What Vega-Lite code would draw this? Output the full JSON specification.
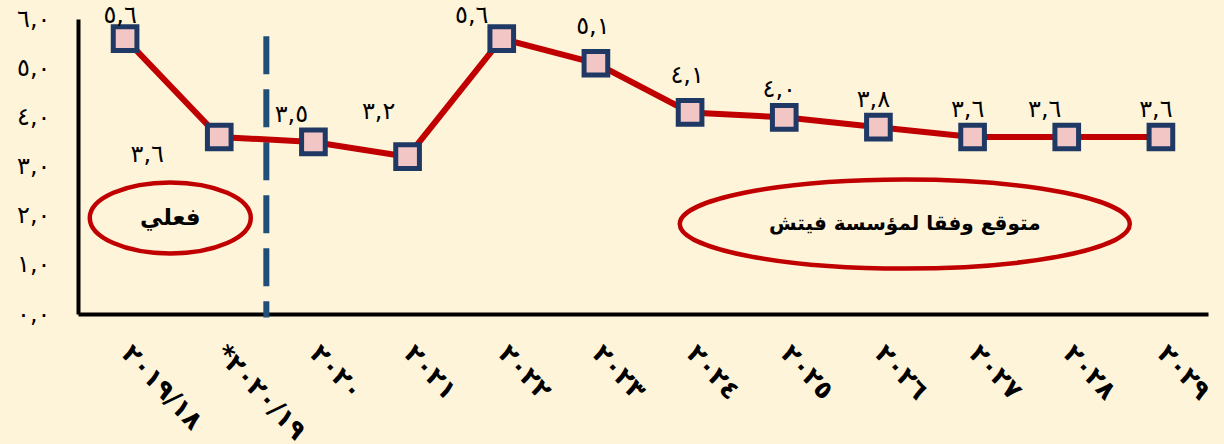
{
  "$schema": "https://vega.github.io/schema/vega-lite/v6.json",
  "autosize": {"type": "none"},
  "width": 1130,
  "height": 295,
  "padding": {"left": 78, "top": 19, "right": 16, "bottom": 130},
  "background": "#FEF4D9",
  "config": {
    "view": {"stroke": null},
    "font": "DejaVu Sans",
    "locale": {
      "number": {
        "decimal": ",",
        "thousands": ".",
        "grouping": [3],
        "currency": ["", ""],
        "numerals": ["٠", "١", "٢", "٣", "٤", "٥", "٦", "٧", "٨", "٩"]
      }
    }
  },
  "datasets": {
    "growth": [
      {"year": "٢٠١٩/١٨", "value": 5.6},
      {"year": "*٢٠٢٠/١٩", "value": 3.6},
      {"year": "٢٠٢٠", "value": 3.5},
      {"year": "٢٠٢١", "value": 3.2},
      {"year": "٢٠٢٢", "value": 5.6},
      {"year": "٢٠٢٣", "value": 5.1},
      {"year": "٢٠٢٤", "value": 4.1},
      {"year": "٢٠٢٥", "value": 4.0},
      {"year": "٢٠٢٦", "value": 3.8},
      {"year": "٢٠٢٧", "value": 3.6},
      {"year": "٢٠٢٨", "value": 3.6},
      {"year": "٢٠٢٩", "value": 3.6}
    ],
    "divider": [{"u": 2.0, "top": 5.65, "bottom": -0.07}],
    "actual": [{"label": "فعلي", "u": 0.98, "v": 1.955}],
    "forecast": [{"label": "متوقع وفقا لمؤسسة فيتش", "u": 8.78, "v": 1.83}]
  },
  "resolve": {"scale": {"x": "independent"}},
  "layer": [
    {
      "data": {"name": "divider"},
      "mark": {"type": "rule", "color": "#1F4E79", "strokeWidth": 6, "strokeDash": [38, 15]},
      "encoding": {
        "x": {"field": "u", "type": "quantitative", "scale": {"domain": [0, 12], "nice": false, "zero": false}, "axis": null},
        "y": {"field": "top", "type": "quantitative", "scale": {"domain": [0, 6], "nice": false}, "title": null},
        "y2": {"field": "bottom"}
      }
    },
    {
      "data": {"name": "actual"},
      "layer": [
        {
          "mark": {"type": "point", "filled": false, "stroke": "#C00000", "strokeWidth": 4.5, "opacity": 1, "size": 25921,
            "shape": "M-1,0C-1,-0.2436,-0.5523,-0.441,0,-0.441C0.5523,-0.441,1,-0.2436,1,0C1,0.2436,0.5523,0.441,0,0.441C-0.5523,0.441,-1,0.2436,-1,0Z"}
        },
        {
          "mark": {"type": "text", "fontSize": 23, "fontWeight": "bold", "color": "black", "font": "DejaVu Sans"},
          "encoding": {"text": {"field": "label"}}
        }
      ],
      "encoding": {
        "x": {"field": "u", "type": "quantitative", "scale": {"domain": [0, 12], "nice": false, "zero": false}, "axis": null},
        "y": {"field": "v", "type": "quantitative", "title": null}
      }
    },
    {
      "data": {"name": "forecast"},
      "layer": [
        {
          "mark": {"type": "point", "filled": false, "stroke": "#C00000", "strokeWidth": 4.5, "opacity": 1, "size": 202500,
            "shape": "M-1,0C-1,-0.1094,-0.5523,-0.198,0,-0.198C0.5523,-0.198,1,-0.1094,1,0C1,0.1094,0.5523,0.198,0,0.198C-0.5523,0.198,-1,0.1094,-1,0Z"}
        },
        {
          "mark": {"type": "text", "fontSize": 20, "fontWeight": "bold", "color": "black", "font": "DejaVu Sans"},
          "encoding": {"text": {"field": "label"}}
        }
      ],
      "encoding": {
        "x": {"field": "u", "type": "quantitative", "scale": {"domain": [0, 12], "nice": false, "zero": false}, "axis": null},
        "y": {"field": "v", "type": "quantitative", "title": null}
      }
    },
    {
      "data": {"name": "growth"},
      "encoding": {
        "x": {
          "field": "year", "type": "ordinal", "sort": null,
          "scale": {"type": "point", "padding": 0.5},
          "axis": {
            "title": null, "domain": true, "domainColor": "black", "domainWidth": 4, "ticks": false, "grid": false,
            "labelAngle": 47, "labelAlign": "left", "labelBaseline": "top", "labelFontSize": 26, "labelFontWeight": "bold", "labelColor": "black",
            "labelPadding": 26, "labelOffset": 10, "labelFont": "DejaVu Sans"
          }
        },
        "y": {
          "field": "value", "type": "quantitative", "title": null,
          "scale": {"domain": [0, 6], "nice": false},
          "axis": {
            "title": null, "values": [0, 1, 2, 3, 4, 5, 6], "format": ".1f", "domain": true, "domainColor": "black",
            "domainWidth": 4, "ticks": false, "grid": false, "labelFontSize": 24, "labelColor": "black",
            "labelPadding": 28, "labelFont": "DejaVu Sans"
          }
        }
      },
      "layer": [
        {"mark": {"type": "line", "color": "#C00000", "strokeWidth": 6}},
        {"mark": {"type": "point", "shape": "square", "filled": true, "fill": "#F3C6C6", "stroke": "#1F3864", "strokeWidth": 5, "size": 560, "opacity": 1}},
        {
          "transform": [{"filter": {"field": "year", "oneOf": ["٢٠١٩/١٨"]}}],
          "mark": {"type": "text", "fontSize": 24, "dx": -5, "dy": -23, "color": "black"},
          "encoding": {"text": {"field": "value", "type": "quantitative", "format": ".1f"}}
        },
        {
          "transform": [{"filter": {"field": "year", "oneOf": ["٢٠٢٥", "٢٠٢٦", "٢٠٢٧", "٢٠٢٩"]}}],
          "mark": {"type": "text", "fontSize": 24, "dx": -5, "dy": -27, "color": "black"},
          "encoding": {"text": {"field": "value", "type": "quantitative", "format": ".1f"}}
        },
        {
          "transform": [{"filter": {"field": "year", "oneOf": ["٢٠٢٣", "٢٠٢٤"]}}],
          "mark": {"type": "text", "fontSize": 24, "dx": -3, "dy": -36, "color": "black"},
          "encoding": {"text": {"field": "value", "type": "quantitative", "format": ".1f"}}
        },
        {
          "transform": [{"filter": {"field": "year", "oneOf": ["٢٠٢٠", "٢٠٢٨"]}}],
          "mark": {"type": "text", "fontSize": 24, "dx": -22, "dy": -27, "color": "black"},
          "encoding": {"text": {"field": "value", "type": "quantitative", "format": ".1f"}}
        },
        {
          "transform": [{"filter": {"field": "year", "oneOf": ["٢٠٢٢"]}}],
          "mark": {"type": "text", "fontSize": 24, "dx": -30, "dy": -23, "color": "black"},
          "encoding": {"text": {"field": "value", "type": "quantitative", "format": ".1f"}}
        },
        {
          "transform": [{"filter": {"field": "year", "oneOf": ["*٢٠٢٠/١٩"]}}],
          "mark": {"type": "text", "fontSize": 24, "dx": -72, "dy": 18, "color": "black"},
          "encoding": {"text": {"field": "value", "type": "quantitative", "format": ".1f"}}
        },
        {
          "transform": [{"filter": {"field": "year", "oneOf": ["٢٠٢١"]}}],
          "mark": {"type": "text", "fontSize": 24, "dx": -29, "dy": -45, "color": "black"},
          "encoding": {"text": {"field": "value", "type": "quantitative", "format": ".1f"}}
        }
      ]
    }
  ]
}
